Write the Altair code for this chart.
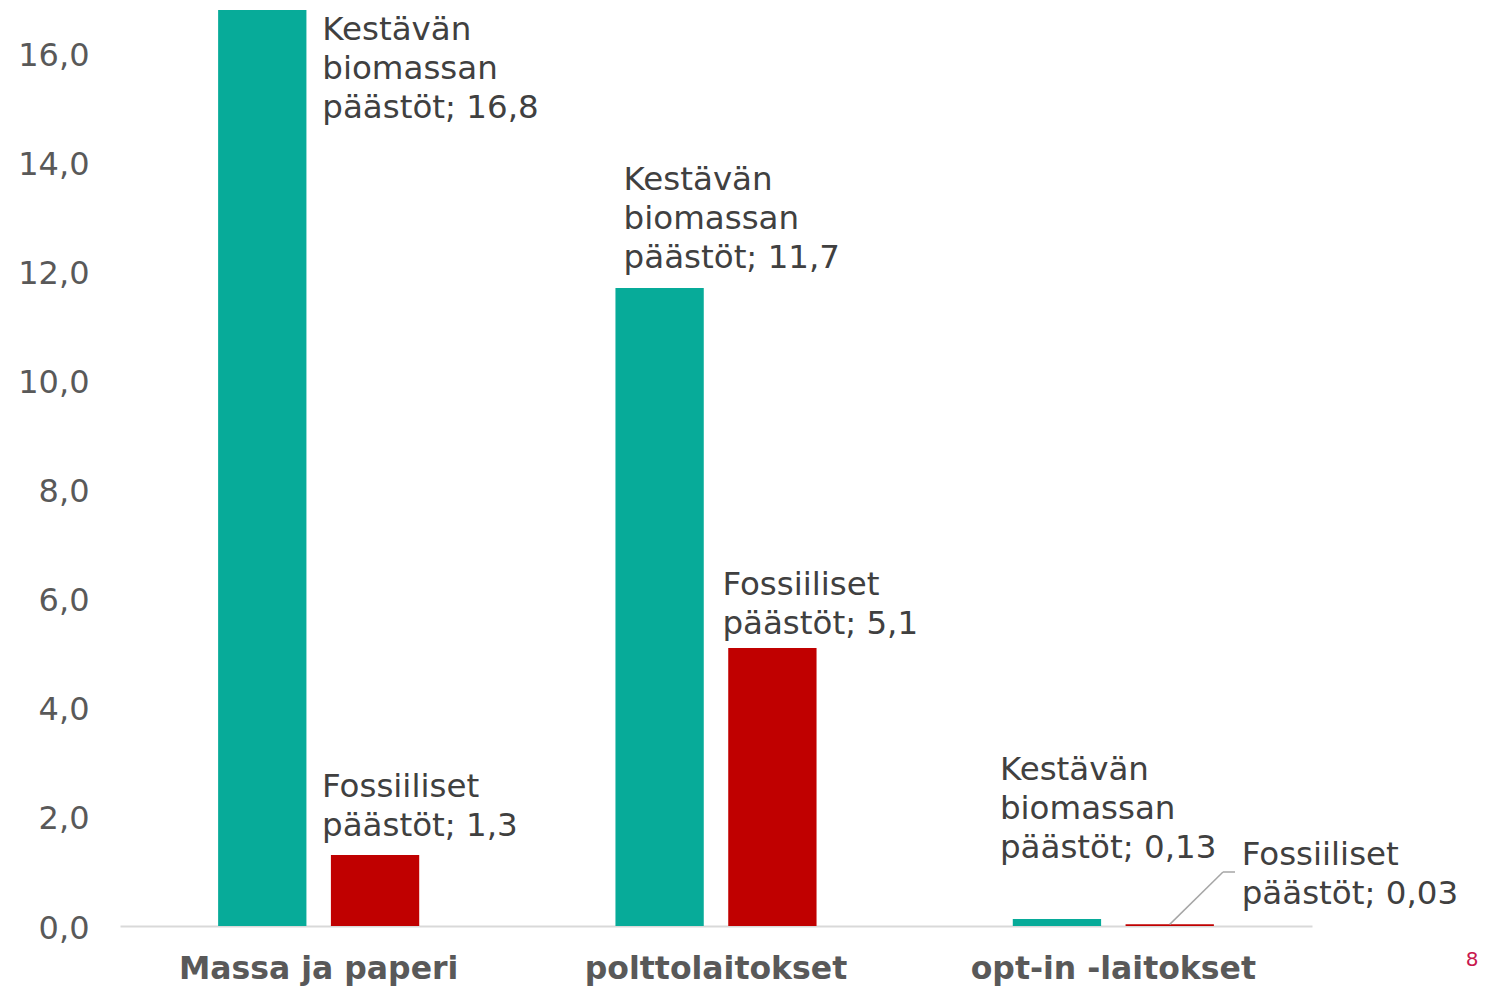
import altair as alt
import pandas as pd

categories = ["Massa ja paperi", "polttolaitokset", "opt-in -laitokset"]
series = ["Kestävän biomassan päästöt", "Fossiiliset päästöt"]
biomass = [16.8, 11.7, 0.13]
fossil = [1.3, 5.1, 0.03]
label_heads = ["Kestävän\nbiomassan\npäästöt", "Fossiiliset\npäästöt"]
y_ticks = [0, 2, 4, 6, 8, 10, 12, 14, 16]
colors = ["#07AB99", "#C00000"]

rows = []
for c, b, f in zip(categories, biomass, fossil):
    for s, head, v in ((series[0], label_heads[0], b), (series[1], label_heads[1], f)):
        rows.append({"category": c, "series": s, "value": v,
                     "label": head + "; " + str(v).replace(".", ",")})
df = pd.DataFrame(rows)

FONT = "DejaVu Sans"

x_enc = alt.X("category:N", sort=categories,
              scale=alt.Scale(paddingInner=0, paddingOuter=0),
              axis=alt.Axis(title=None, labelFont=FONT, labelFontWeight="bold",
                            labelFontSize=31.5, labelColor="#595959", labelPadding=27,
                            labelAngle=0, labelLimit=0, ticks=False,
                            domainColor="#D9D9D9", domainWidth=2, grid=False))
xo_enc = alt.XOffset("series:N", sort=series,
                     scale=alt.Scale(paddingInner=0.217, paddingOuter=0.87))
y_enc = alt.Y("value:Q", scale=alt.Scale(domain=[0, 16.8], nice=False, zero=True),
              axis=alt.Axis(title=None, values=y_ticks,
                            labelExpr="replace(format(datum.value, '.1f'), '.', ',')",
                            grid=False, domain=False, ticks=False, labelPadding=31,
                            labelFont=FONT, labelFontSize=32, labelColor="#595959",
                            labelFlush=False, labelOffset=2))

base = alt.Chart(df)

bars = base.mark_bar().encode(
    x=x_enc, xOffset=xo_enc, y=y_enc,
    color=alt.Color("series:N", scale=alt.Scale(domain=series, range=colors), legend=None),
)

# per-label offsets (pixels) relative to bar centre / bar top
offsets = {
    (categories[0], series[0]): (60, 30),
    (categories[0], series[1]): (-53, -58),
    (categories[1], series[0]): (-36, -98),
    (categories[1], series[1]): (-50, -53),
    (categories[2], series[0]): (-57, -139),
    (categories[2], series[1]): (72, -59),
}

layers = [bars]
for (c, s), (dx, dy) in offsets.items():
    layers.append(
        base.transform_filter((alt.datum.category == c) & (alt.datum.series == s))
        .mark_text(align="left", baseline="alphabetic", dx=dx, dy=dy, lineBreak="\n",
                   lineHeight=39, font=FONT, fontSize=32.5, color="#404040")
        .encode(x=x_enc, xOffset=xo_enc, y=y_enc, text="label:N")
    )

leader_src = base.transform_filter((alt.datum.category == categories[2]) & (alt.datum.series == series[1]))
leader1 = leader_src.mark_rule(color="#A6A6A6", strokeWidth=1.5).encode(
    x=x_enc, xOffset=xo_enc, y=y_enc, x2=alt.value(1103), y2=alt.value(862))
leader2 = leader_src.mark_rule(color="#A6A6A6", strokeWidth=1.5).encode(
    x=alt.value(1103), x2=alt.value(1115), y=alt.value(862))

page_no = alt.Chart(pd.DataFrame({"t": ["8"]})).mark_text(
    font=FONT, fontSize=20, color="#C8174E", align="center", baseline="middle"
).encode(x=alt.value(1352), y=alt.value(950), text="t:N")

chart = alt.layer(*layers, leader1, leader2, page_no).properties(
    width=1192, height=916,
    padding={"left": 112, "top": 2, "right": 166, "bottom": 60},
    autosize=alt.AutoSizeParams(type="none"),
).configure_view(stroke=None)

chart.save("out.html", embed_options={"renderer": "svg", "actions": False})
